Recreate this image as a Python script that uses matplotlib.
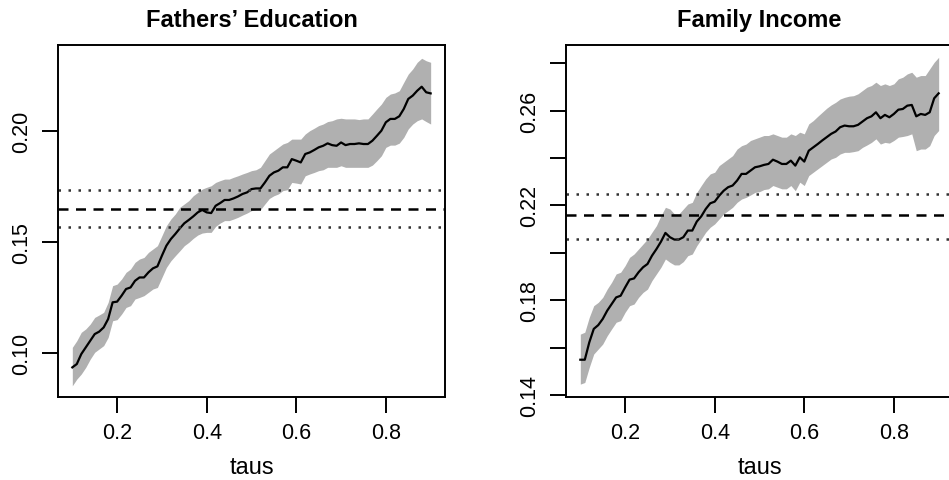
import numpy as np
import matplotlib.pyplot as plt

plt.rcParams['font.family'] = ['Liberation Sans', 'DejaVu Sans']

# quantiles
taus = np.round(np.arange(0.10, 0.905, 0.01), 2)

# Fathers' Education: coefficient and confidence band
fe_coef = [0.0937, 0.0952, 0.0997, 0.1027, 0.1057, 0.1087, 0.1098, 0.1117, 0.1155, 0.1230,
           0.1233, 0.1260, 0.1290, 0.1297, 0.1327, 0.1342, 0.1342, 0.1365, 0.1383, 0.1392,
           0.1440, 0.1485, 0.1515, 0.1538, 0.1563, 0.1586, 0.1601, 0.1617, 0.1635, 0.1646,
           0.1635, 0.1632, 0.1665, 0.1677, 0.1691, 0.1691, 0.1698, 0.1707, 0.1718, 0.1725,
           0.1740, 0.1743, 0.1743, 0.1770, 0.1800, 0.1815, 0.1823, 0.1838, 0.1838, 0.1875,
           0.1868, 0.1860, 0.1898, 0.1905, 0.1916, 0.1928, 0.1935, 0.1946, 0.1938, 0.1935,
           0.1950, 0.1938, 0.1943, 0.1943, 0.1946, 0.1943, 0.1943, 0.1958, 0.1980, 0.2003,
           0.2041, 0.2056, 0.2056, 0.2068, 0.2101, 0.2146, 0.2161, 0.2183, 0.2201, 0.2176,
           0.2171]
fe_upper = [0.1027, 0.1057, 0.1095, 0.1110, 0.1132, 0.1162, 0.1173, 0.1185, 0.1230, 0.1305,
            0.1312, 0.1335, 0.1365, 0.1380, 0.1410, 0.1425, 0.1432, 0.1455, 0.1470, 0.1485,
            0.1530, 0.1575, 0.1605, 0.1628, 0.1658, 0.1673, 0.1688, 0.1710, 0.1725, 0.1740,
            0.1748, 0.1755, 0.1770, 0.1778, 0.1785, 0.1785, 0.1793, 0.1800, 0.1808, 0.1815,
            0.1823, 0.1827, 0.1838, 0.1868, 0.1898, 0.1913, 0.1928, 0.1943, 0.1950, 0.1965,
            0.1965, 0.1965, 0.1988, 0.2003, 0.2014, 0.2026, 0.2033, 0.2044, 0.2048, 0.2056,
            0.2059, 0.2056, 0.2056, 0.2056, 0.2053, 0.2056, 0.2056, 0.2078, 0.2101, 0.2123,
            0.2153, 0.2168, 0.2173, 0.2183, 0.2221, 0.2258, 0.2281, 0.2311, 0.2329, 0.2318,
            0.2311]
fe_lower = [0.0854, 0.0884, 0.0907, 0.0937, 0.0974, 0.1005, 0.1020, 0.1035, 0.1072, 0.1147,
            0.1152, 0.1177, 0.1207, 0.1215, 0.1245, 0.1252, 0.1260, 0.1275, 0.1290, 0.1297,
            0.1342, 0.1387, 0.1417, 0.1440, 0.1462, 0.1485, 0.1500, 0.1518, 0.1533, 0.1542,
            0.1545, 0.1545, 0.1572, 0.1587, 0.1598, 0.1598, 0.1605, 0.1613, 0.1623, 0.1632,
            0.1643, 0.1647, 0.1647, 0.1673, 0.1698, 0.1710, 0.1718, 0.1733, 0.1737, 0.1770,
            0.1767, 0.1763, 0.1800, 0.1808, 0.1815, 0.1823, 0.1827, 0.1838, 0.1838, 0.1838,
            0.1845, 0.1838, 0.1838, 0.1838, 0.1838, 0.1838, 0.1838, 0.1848, 0.1868, 0.1890,
            0.1928, 0.1938, 0.1938, 0.1947, 0.1973, 0.2011, 0.2033, 0.2048, 0.2056, 0.2044,
            0.2033]
fe_ols, fe_ols_lo, fe_ols_hi = 0.1649, 0.1568, 0.1737

# Family Income: coefficient and confidence band
fi_coef = [0.1549, 0.1549, 0.1622, 0.1679, 0.1695, 0.1721, 0.1756, 0.1784, 0.1812, 0.1819,
           0.1854, 0.1887, 0.1892, 0.1918, 0.1939, 0.1953, 0.1988, 0.2016, 0.2047, 0.2084,
           0.2066, 0.2056, 0.2056, 0.2066, 0.2094, 0.2094, 0.2132, 0.2154, 0.2185, 0.2209,
           0.2216, 0.2241, 0.2262, 0.2277, 0.2284, 0.2305, 0.2333, 0.2333, 0.2347, 0.2361,
           0.2365, 0.2371, 0.2375, 0.2393, 0.2385, 0.2375, 0.2375, 0.2389, 0.2368, 0.2403,
           0.2385, 0.2431, 0.2445, 0.2459, 0.2474, 0.2488, 0.2502, 0.2512, 0.2530, 0.2537,
           0.2534, 0.2534, 0.2540, 0.2554, 0.2568, 0.2576, 0.2593, 0.2568, 0.2582, 0.2572,
           0.2586, 0.2604, 0.2607, 0.2621, 0.2624, 0.2576, 0.2586, 0.2582, 0.2593, 0.2652,
           0.2673]
fi_upper = [0.1657, 0.1665, 0.1728, 0.1777, 0.1791, 0.1812, 0.1847, 0.1876, 0.1911, 0.1918,
            0.1946, 0.1981, 0.1995, 0.2016, 0.2037, 0.2058, 0.2087, 0.2115, 0.2157, 0.2192,
            0.2185, 0.2164, 0.2164, 0.2185, 0.2206, 0.2213, 0.2255, 0.2284, 0.2312, 0.2333,
            0.2340, 0.2368, 0.2382, 0.2396, 0.2410, 0.2438, 0.2452, 0.2459, 0.2474, 0.2481,
            0.2488, 0.2495, 0.2495, 0.2502, 0.2495, 0.2488, 0.2488, 0.2502, 0.2495, 0.2509,
            0.2502, 0.2544, 0.2558, 0.2576, 0.2593, 0.2610, 0.2624, 0.2635, 0.2649, 0.2656,
            0.2661, 0.2663, 0.2671, 0.2685, 0.2699, 0.2706, 0.2720, 0.2706, 0.2713, 0.2706,
            0.2713, 0.2734, 0.2741, 0.2755, 0.2762, 0.2741, 0.2748, 0.2748, 0.2776, 0.2804,
            0.2825]
fi_lower = [0.1446, 0.1453, 0.1517, 0.1573, 0.1594, 0.1615, 0.1650, 0.1679, 0.1707, 0.1714,
            0.1749, 0.1777, 0.1784, 0.1812, 0.1833, 0.1847, 0.1883, 0.1911, 0.1939, 0.1974,
            0.1960, 0.1949, 0.1949, 0.1963, 0.1988, 0.1995, 0.2030, 0.2058, 0.2087, 0.2108,
            0.2122, 0.2143, 0.2164, 0.2178, 0.2192, 0.2213, 0.2227, 0.2234, 0.2244, 0.2255,
            0.2258, 0.2267, 0.2270, 0.2284, 0.2277, 0.2270, 0.2270, 0.2284, 0.2262, 0.2298,
            0.2284, 0.2326, 0.2340, 0.2354, 0.2368, 0.2382, 0.2396, 0.2403, 0.2417, 0.2424,
            0.2424, 0.2427, 0.2431, 0.2445, 0.2455, 0.2466, 0.2481, 0.2459, 0.2466, 0.2463,
            0.2474, 0.2488, 0.2491, 0.2495, 0.2502, 0.2431, 0.2438, 0.2438, 0.2452, 0.2495,
            0.2516]
fi_ols, fi_ols_lo, fi_ols_hi = 0.2161, 0.2059, 0.2250

fig = plt.figure(figsize=(9.49, 4.81), dpi=100)
ax1 = fig.add_axes([0.0611, 0.1732, 0.4078, 0.7312])
ax2 = fig.add_axes([0.5964, 0.1732, 0.4078, 0.7312])

panels = [
    (ax1, "Fathers\u2019 Education", fe_coef, fe_lower, fe_upper, fe_ols, fe_ols_lo, fe_ols_hi),
    (ax2, "Family Income", fi_coef, fi_lower, fi_upper, fi_ols, fi_ols_lo, fi_ols_hi),
]

for ax, title, coef, lo, hi, ols, ols_lo, ols_hi in panels:
    ax.fill_between(taus, lo, hi, color='#b0b0b0', linewidth=0)
    ax.plot(taus, coef, color='black', lw=1.6)
    ax.axhline(ols, color='black', lw=1.8, linestyle=(0, (4, 3)))
    ax.axhline(ols_lo, color='#333333', lw=1.8, linestyle=(0, (1, 3)))
    ax.axhline(ols_hi, color='#333333', lw=1.8, linestyle=(0, (1, 3)))
    ax.set_xlim(0.068, 0.932)
    ax.set_xticks([0.2, 0.4, 0.6, 0.8])
    ax.set_title(title, fontsize=17, fontweight='bold', pad=14)
    ax.set_xlabel('taus', fontsize=17, labelpad=9)
    for s in ax.spines.values():
        s.set_linewidth(1.4)
    ax.tick_params(direction='out', length=11.5, width=1.4, labelsize=15.5, pad=7)

ax1.set_ylim(0.0805, 0.2389)
ax1.set_yticks([0.10, 0.15, 0.20])
ax1.set_yticklabels(['0.10', '0.15', '0.20'])

ax2.set_ylim(0.1393, 0.2877)
ax2.set_yticks([0.14, 0.16, 0.18, 0.20, 0.22, 0.24, 0.26, 0.28])
ax2.set_yticklabels(['0.14', '', '0.18', '', '0.22', '', '0.26', ''])

for ax in (ax1, ax2):
    for lab in ax.get_yticklabels():
        lab.set_rotation(90)
        lab.set_va('center')
        lab.set_ha('right')

fig.savefig('out.png', dpi=100)
